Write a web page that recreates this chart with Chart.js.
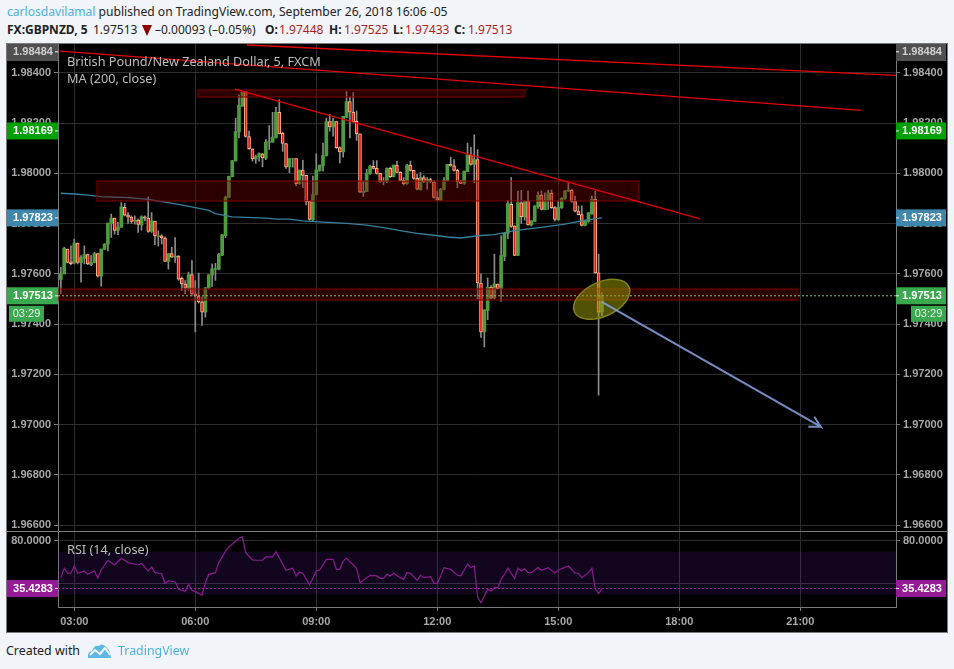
<!DOCTYPE html>
<html>
<head>
<meta charset="utf-8">
<title>FX:GBPNZD, 5</title>
<script src="https://cdn.jsdelivr.net/npm/chart.js@4/dist/chart.umd.min.js"></script>
<style>
  html, body { margin: 0; padding: 0; background: #f1f4f9; width: 954px; height: 669px; overflow: hidden; }
  body { font-family: "Noto Sans", sans-serif; font-size: 12.1px; color: #222; position: relative; }
  .line { position: absolute; white-space: nowrap; }
  .quote { position: absolute; top: 21px; font-size: 12px; white-space: nowrap; }
  .blue { color: #4db1e2; }
  .price { color: #b01c24; }
  #arrow-down { position: absolute; left: 142px; top: 25px; width: 0; height: 0; border-left: 5px solid transparent; border-right: 5px solid transparent; border-top: 11px solid #8b0000; }
  #frame { position: absolute; left: 6px; top: 43px; width: 940px; height: 588px; background: #000; border: 1px solid #7a7a7a; }
  #frame canvas { position: absolute; left: 0; top: 0; }
  .legend { position: absolute; color: #bdbdbd; font-size: 12.7px; white-space: nowrap; }
</style>
</head>
<body>
<div class="line" style="left:7px;top:3px"><span class="blue">carlosdavilamal</span> published on TradingView.com, September 26, 2018 16:06 -05</div>
<b class="quote" style="left:7px">FX:GBPNZD, 5</b>
<span class="quote" style="left:93px">1.97513</span>
<div id="arrow-down"></div>
<span class="quote" style="left:155px">&#8211;0.00093 (&#8211;0.05%)</span>
<b class="quote" style="left:265px">O:</b><span class="quote price" style="left:279px">1.97448</span>
<b class="quote" style="left:329px">H:</b><span class="quote price" style="left:344px">1.97525</span>
<b class="quote" style="left:393px">L:</b><span class="quote price" style="left:405px">1.97433</span>
<b class="quote" style="left:454px">C:</b><span class="quote price" style="left:468px">1.97513</span>
<div id="frame">
  <canvas id="chart" width="940" height="588"></canvas>
  <div class="legend" style="left:60px;top:8px">British Pound/New Zealand Dollar, 5, FXCM</div>
  <div class="legend" style="left:60px;top:25px">MA (200, close)</div>
  <div class="legend" style="left:60px;top:496px">RSI (14, close)</div>
</div>
<div class="line" style="left:6px;top:642px;font-size:12.4px">Created with</div>
<svg class="line" style="left:87px;top:643px" width="25" height="16" viewBox="0 0 25 16">
  <path d="M1 15 Q0 9 5 8 Q7 2 12 3 Q14 0 18 3 Q23 6 24 15 Z" fill="#5bb8e5"/>
  <path d="M3 12 L8 7 L13 11 L18 5 L23 12" fill="none" stroke="#f1f4f9" stroke-width="2"/>
</svg>
<div class="line blue" style="left:118px;top:642px;font-size:12.4px">TradingView</div>

<script>
var opens = [1.97578,1.97600,1.97699,1.97648,1.97644,1.97723,1.97645,1.97662,1.97677,1.97637,
  1.97646,1.97681,1.97591,1.97698,1.97718,1.97801,1.97822,1.97773,1.97786,1.97865,
  1.97834,1.97826,1.97810,1.97814,1.97795,1.97827,1.97822,1.97769,1.97810,1.97749,
  1.97752,1.97743,1.97650,1.97681,1.97667,1.97671,1.97582,1.97560,1.97542,1.97597,
  1.97521,1.97512,1.97489,1.97448,1.97545,1.97595,1.97619,1.97619,1.97675,1.97752,
  1.97904,1.97987,1.98050,1.98165,1.98268,1.98325,1.98147,1.98098,1.98058,1.98067,
  1.98078,1.98061,1.98124,1.98124,1.98141,1.98243,1.98160,1.98119,1.98026,1.98058,
  1.98059,1.97959,1.98013,1.97992,1.97889,1.97815,1.97916,1.98011,1.98030,1.98070,
  1.98206,1.98185,1.98206,1.98103,1.98086,1.98223,1.98286,1.98244,1.98207,1.98158,
  1.97923,1.97927,1.97999,1.98028,1.98020,1.98000,1.97967,1.97967,1.98020,1.97987,
  1.98033,1.98004,1.97972,1.97959,1.98033,1.98012,1.97980,1.97935,1.97983,1.97967,
  1.97975,1.97967,1.97904,1.97894,1.97937,1.97970,1.98036,1.98030,1.98012,1.97967,
  1.97960,1.98007,1.98073,1.98036,1.98055,1.97564,1.97369,1.97455,1.97547,1.97504,
  1.97560,1.97541,1.97670,1.97761,1.97877,1.97791,1.97674,1.97883,1.97827,1.97890,
  1.97795,1.97809,1.97868,1.97914,1.97856,1.97893,1.97922,1.97864,1.97815,1.97864,
  1.97900,1.97929,1.97933,1.97889,1.97850,1.97836,1.97793,1.97809,1.97839,1.97897,1.97604,1.97448];
var highs = [1.97626,1.97706,1.97699,1.97712,1.97739,1.97723,1.97673,1.97712,1.97679,1.97673,
  1.97686,1.97681,1.97699,1.97721,1.97802,1.97838,1.97822,1.97805,1.97884,1.97881,
  1.97844,1.97831,1.97831,1.97818,1.97831,1.97831,1.97906,1.97844,1.97810,1.97772,
  1.97756,1.97748,1.97681,1.97706,1.97745,1.97673,1.97587,1.97574,1.97607,1.97653,
  1.97574,1.97603,1.97508,1.97547,1.97596,1.97640,1.97642,1.97682,1.97758,1.97910,
  1.97989,1.98051,1.98220,1.98313,1.98326,1.98326,1.98168,1.98098,1.98073,1.98082,
  1.98079,1.98135,1.98190,1.98243,1.98263,1.98293,1.98164,1.98119,1.98059,1.98059,
  1.98059,1.98013,1.98053,1.97992,1.97889,1.97989,1.98078,1.98033,1.98121,1.98220,
  1.98234,1.98220,1.98206,1.98106,1.98227,1.98326,1.98306,1.98322,1.98249,1.98158,
  1.97970,1.98016,1.98033,1.98051,1.98051,1.98001,1.97983,1.98022,1.98025,1.98033,
  1.98049,1.98007,1.97983,1.98036,1.98049,1.98012,1.97996,1.98003,1.97991,1.97983,
  1.97980,1.97970,1.97930,1.97941,1.97983,1.98036,1.98065,1.98055,1.98016,1.97972,
  1.98009,1.98121,1.98104,1.98154,1.98095,1.97600,1.97457,1.97584,1.97554,1.97679,
  1.97560,1.97752,1.97762,1.97893,1.97983,1.97791,1.97930,1.97933,1.97890,1.97930,
  1.97811,1.97871,1.97927,1.97930,1.97923,1.97934,1.97935,1.97868,1.97890,1.97904,
  1.97933,1.97963,1.97937,1.97910,1.97871,1.97871,1.97811,1.97844,1.97910,1.97930,1.97679,1.97525];
var lows = [1.97521,1.97600,1.97644,1.97637,1.97640,1.97640,1.97567,1.97640,1.97637,1.97633,
  1.97644,1.97587,1.97551,1.97698,1.97692,1.97745,1.97758,1.97756,1.97785,1.97831,
  1.97801,1.97801,1.97798,1.97765,1.97774,1.97811,1.97765,1.97765,1.97716,1.97710,
  1.97719,1.97650,1.97619,1.97666,1.97646,1.97574,1.97534,1.97521,1.97534,1.97514,
  1.97369,1.97484,1.97395,1.97428,1.97541,1.97550,1.97574,1.97616,1.97673,1.97745,
  1.97904,1.97986,1.98049,1.98141,1.98267,1.98144,1.98095,1.98049,1.98040,1.98049,
  1.98026,1.98055,1.98095,1.98124,1.98141,1.98157,1.98088,1.98020,1.98003,1.98025,
  1.97950,1.97956,1.97943,1.97875,1.97814,1.97811,1.97914,1.98009,1.98009,1.98070,
  1.98168,1.98148,1.98099,1.98042,1.98065,1.98223,1.98141,1.98205,1.98131,1.97923,
  1.97908,1.97927,1.97996,1.98017,1.97997,1.97964,1.97954,1.97963,1.97983,1.97985,
  1.98003,1.97970,1.97954,1.97956,1.98009,1.97976,1.97934,1.97933,1.97963,1.97937,
  1.97963,1.97901,1.97893,1.97893,1.97934,1.97970,1.98029,1.98009,1.97943,1.97959,
  1.97956,1.98007,1.98033,1.97963,1.97501,1.97347,1.97310,1.97418,1.97501,1.97501,
  1.97541,1.97492,1.97653,1.97741,1.97785,1.97673,1.97673,1.97801,1.97814,1.97794,
  1.97791,1.97809,1.97861,1.97855,1.97855,1.97857,1.97861,1.97811,1.97814,1.97861,
  1.97897,1.97927,1.97886,1.97847,1.97835,1.97791,1.97791,1.97805,1.97838,1.97603,1.97118,1.97433];
var closes = [1.97600,1.97702,1.97646,1.97641,1.97723,1.97646,1.97665,1.97677,1.97640,1.97646,
  1.97681,1.97591,1.97699,1.97719,1.97802,1.97822,1.97773,1.97786,1.97867,1.97834,
  1.97826,1.97809,1.97813,1.97797,1.97827,1.97822,1.97769,1.97811,1.97751,1.97752,
  1.97743,1.97650,1.97681,1.97667,1.97671,1.97579,1.97560,1.97543,1.97597,1.97520,
  1.97512,1.97489,1.97448,1.97545,1.97596,1.97620,1.97621,1.97677,1.97756,1.97906,
  1.97988,1.98051,1.98166,1.98271,1.98323,1.98147,1.98098,1.98058,1.98067,1.98079,
  1.98062,1.98124,1.98127,1.98144,1.98243,1.98157,1.98119,1.98026,1.98059,1.98059,
  1.97959,1.98013,1.97992,1.97888,1.97817,1.97917,1.98013,1.98033,1.98071,1.98206,
  1.98185,1.98207,1.98102,1.98086,1.98227,1.98286,1.98244,1.98206,1.98158,1.97925,
  1.97929,1.98000,1.98028,1.98020,1.98000,1.97967,1.97970,1.98020,1.97987,1.98033,
  1.98004,1.97972,1.97959,1.98033,1.98012,1.97980,1.97937,1.97983,1.97967,1.97976,
  1.97967,1.97904,1.97894,1.97937,1.97972,1.98036,1.98030,1.98012,1.97967,1.97960,
  1.98009,1.98073,1.98036,1.98055,1.97564,1.97369,1.97457,1.97547,1.97504,1.97560,
  1.97541,1.97673,1.97762,1.97880,1.97789,1.97674,1.97883,1.97828,1.97890,1.97795,
  1.97811,1.97871,1.97914,1.97857,1.97894,1.97923,1.97864,1.97817,1.97865,1.97901,
  1.97930,1.97934,1.97889,1.97850,1.97836,1.97793,1.97811,1.97843,1.97897,1.97604,1.97448,1.97513];

// bar numbers + values
var maBars = [0,4,8,12,20,26,30,35,40,44,46,49,51,57,61,64,68,72,78,85,91,96,101,106,111,115,119,124,129,135,143,150,156,161];
var maValues = [1.97921,1.97918,1.97914,1.97908,1.97904,1.97897,1.97888,1.97877,1.97864,1.97853,1.97840,1.97832,1.97827,1.97824,1.97822,
  1.97818,1.97818,1.97811,1.97806,1.97801,1.97794,1.97784,1.97772,1.97761,1.97754,1.97747,1.97743,1.97752,1.97756,1.97772,1.97785,1.97798,1.97814,1.97823];
var rsiBars = [0,1,2,3,4,5,7,8,10,11,12,14,16,18,20,23,24,26,27,28,30,31,32,34,35,37,38,39,40,42,43,44,46,47,49,50,53,54,55,57,58,60,61,63,64,67,69,70,71,72,74,76,77,
  79,81,82,83,84,85,88,89,92,94,95,96,97,98,99,101,102,103,104,106,107,108,110,111,112,113,114,116,118,119,121,122,123,124,125,127,128,129,130,131,132,133,135,136,137,138,139,140,142,143,145,147,148,151,153,154,155,157,158,159,160,161];
var rsiValues = [45.6,54.4,49.7,49.7,56.5,49.7,51.8,48.7,51.8,45.0,52.8,61.9,57.5,63.7,59.7,57.5,59.0,51.8,55.6,50.3,49.3,40.3,42.5,41.8,34.6,32.5,39.3,33.7,32.5,29.3,40.9,48.7,50.3,59.7,70.6,74.4,82.5,83.8,69.1,62.2,61.9,61.9,65.0,65.0,70.0,52.5,54.4,47.2,50.9,49.7,38.7,51.8,52.8,
  62.8,62.8,53.4,53.4,61.2,63.7,54.4,40.9,47.8,47.2,45.0,45.0,48.7,47.2,49.7,45.6,44.0,50.3,49.7,43.1,47.8,45.6,46.5,40.3,40.3,47.2,55.0,53.4,47.8,47.2,58.1,55.0,56.5,27.4,22.1,34.6,33.1,36.2,36.2,44.0,48.7,54.4,45.0,54.4,51.8,54.0,50.3,50.3,55.0,52.5,55.0,49.7,52.8,56.5,49.7,49.7,45.6,50.3,54.4,35.3,30.6,35.4];

// drawings on the chart, [hour, price]
var zoneA = [[6.06,1.98332],[14.175,1.98304]];
var zoneB = [[3.555,1.97970],[17.0,1.97890]];
var zoneC = [[2.596,1.97541],[20.93,1.97496]];
var trendA = [[6.985,1.98335],[18.514,1.97819]];
var trendB = [[2.645,1.98487],[22.507,1.98251]];
var trendC = [[7.28,1.98511],[23.37,1.98390]];
var arrowPath = [[16.077,1.97489],[21.507,1.96992],[21.349,1.97032],[21.507,1.96992],[21.2,1.96992]];
var circleCenter = [16.077,1.97499];

var lastPrice = 1.97513, lastRsi = 35.4283;
var priceTags = [1.98484, 1.98169, 1.97823, 1.97513];
var countdown = '03:29';

var xMin = 2.596, xMax = 23.374;
var times = closes.map(function (c, i) { return 2 + 40 / 60 + i / 12; });

var wicks = [], upBodies = [], downBodies = [];
closes.forEach(function (c, i) {
  wicks.push({x: times[i], y: [lows[i], highs[i]]});
  if (c >= opens[i]) upBodies.push({x: times[i], y: [opens[i], c]});
  else downBodies.push({x: times[i], y: [c, opens[i]]});
});

function toPoints(list) {
  return list.map(function (p) { return {x: p[0], y: p[1]}; });
}
function box(z) {
  return toPoints([z[0], [z[1][0], z[0][1]], z[1], [z[0][0], z[1][1]], z[0]]);
}
function zone(z) {
  return {type: 'line', data: box(z), xAxisID: 'x', yAxisID: 'y', order: 5, pointRadius: 0, tension: 0, fill: 'shape',
    backgroundColor: 'rgba(125,0,0,0.36)', borderColor: 'rgba(130,0,0,0.5)', borderWidth: 2};
}
function trend(t) {
  return {type: 'line', data: toPoints(t), xAxisID: 'x', yAxisID: 'y', order: 4, pointRadius: 0, borderColor: '#e60000', borderWidth: 1.3};
}

var tagFont = 'bold 11px "Liberation Sans", Arial, sans-serif';
var tagColors = ['#505050', '#00a000', '#3f86ad', '#3aa84e'];

var overlay = {
  id: 'overlay',
  beforeDatasetDraw: function (chart, args) {
    if (chart.data.datasets[args.index].label !== 'arrow') return;
    var ctx = chart.ctx;
    ctx.save();
    ctx.beginPath();
    ctx.ellipse(chart.scales.x.getPixelForValue(circleCenter[0]), chart.scales.y.getPixelForValue(circleCenter[1]), 30, 17, -25 * Math.PI / 180, 0, 2 * Math.PI);
    ctx.fillStyle = 'rgba(150,150,10,0.55)';
    ctx.fill();
    ctx.strokeStyle = '#80801c';
    ctx.lineWidth = 1.5;
    ctx.stroke();
    ctx.restore();
  },
  afterDraw: function (chart) {
    var ctx = chart.ctx, a = chart.chartArea, W = chart.width;
    ctx.save();
    ctx.fillStyle = '#7a7a7a';
    ctx.fillRect(0, chart.scales.y.bottom - 0.5, W, 1);
    ctx.font = tagFont;
    ctx.textBaseline = 'middle';
    ctx.textAlign = 'center';

    function tag(y, color, text) {
      var top = Math.max(0, y - 8.5);
      ctx.fillStyle = color;
      ctx.fillRect(0, top, a.left, 17);
      ctx.fillRect(a.right, top, W - a.right - 1, 17);
      ctx.fillStyle = '#eee';
      ctx.fillRect(a.left - 3, y - 0.5, 3, 1);
      ctx.fillRect(a.right, y - 0.5, 3, 1);
      ctx.fillStyle = color === '#505050' ? '#d0d0d0' : '#fff';
      ctx.fillText(text, 26, y);
      ctx.fillText(text, a.right + 26, y);
    }
    priceTags.forEach(function (p, i) {
      tag(chart.scales.y.getPixelForValue(p), tagColors[i], p.toFixed(5));
    });
    tag(chart.scales.rsi.getPixelForValue(lastRsi), '#941a96', lastRsi.toFixed(4));

    // countdown boxes under the last price
    var cy = chart.scales.y.getPixelForValue(lastPrice) + 18;
    ctx.fillStyle = '#3aa84e';
    ctx.fillRect(2, cy - 8, 35, 16);
    ctx.fillRect(a.right + 15, cy - 8, 35, 16);
    ctx.fillStyle = '#eee';
    ctx.font = '11px "Liberation Sans", Arial, sans-serif';
    ctx.fillText(countdown, 19.5, cy);
    ctx.fillText(countdown, a.right + 32.5, cy);
    ctx.restore();
  }
};

var tickFont = {family: '"Liberation Sans", Arial, sans-serif', size: 11, weight: 'bold'};
var gridColor = '#2e2e2e', axisColor = '#7a7a7a';

function priceAxis(position, stack, min, max, step, digits, weight, order) {
  return {
    type: 'linear', position: position, stack: stack, stackWeight: weight, weight: order,
    min: min, max: max, beginAtZero: false,
    border: {color: axisColor},
    grid: {color: gridColor, tickColor: axisColor, tickLength: 4, drawOnChartArea: position === 'left'},
    // the RSI 40 label sits under the 35.4283 tag in the original
    ticks: {stepSize: step, includeBounds: false, font: tickFont, padding: 3,
      color: function (c) { return c.tick.value === 40 ? 'transparent' : '#a8a8a8'; },
      callback: function (v) { return v.toFixed(digits); }},
    afterFit: function (s) { s.width = 51; s.paddingTop = 0; s.paddingBottom = 0; }
  };
}

new Chart(document.getElementById('chart'), {
  type: 'bar',
  data: {
    datasets: [
      {label: 'wicks', data: wicks, order: 12, barThickness: 1, backgroundColor: '#8c8c8c', xAxisID: 'x', yAxisID: 'y', grouped: false},
      {label: 'up', data: upBodies, order: 11, barThickness: 3, backgroundColor: '#4e9c3e', xAxisID: 'x', yAxisID: 'y', grouped: false},
      {label: 'down', data: downBodies, order: 10, barThickness: 3, backgroundColor: '#f01414', borderColor: '#fbb888', borderWidth: 1, borderSkipped: false, xAxisID: 'x', yAxisID: 'y', grouped: false},
      {type: 'line', label: 'ma', data: maBars.map(function (b, i) { return {x: times[b], y: maValues[i]}; }), order: 9, pointRadius: 0, borderColor: '#38819f', borderWidth: 1.3, xAxisID: 'x', yAxisID: 'y'},
      zone(zoneA), zone(zoneB), zone(zoneC),
      trend(trendA), trend(trendB), trend(trendC),
      {type: 'line', label: 'last', data: [{x: xMin, y: lastPrice}, {x: xMax, y: lastPrice}], order: 3, pointRadius: 0, borderColor: '#8cc08c', borderWidth: 1, borderDash: [2, 2], xAxisID: 'x', yAxisID: 'y'},
      {type: 'line', label: 'arrow', data: toPoints(arrowPath), order: 2, pointRadius: 0, borderColor: 'rgba(130,155,215,0.9)', borderWidth: 2, xAxisID: 'x', yAxisID: 'y'},
      {type: 'line', label: 'band', data: toPoints([[xMin, 70], [xMax, 70], [xMax, 30], [xMin, 30], [xMin, 70]]), order: 8, pointRadius: 0, borderWidth: 0, fill: 'shape', backgroundColor: 'rgba(120,40,200,0.15)', xAxisID: 'x', yAxisID: 'rsi'},
      {type: 'line', label: 'rsi', data: rsiBars.map(function (b, i) { return {x: times[b], y: rsiValues[i]}; }), order: 7, pointRadius: 0, borderColor: '#8b1a90', borderWidth: 1.2, xAxisID: 'x', yAxisID: 'rsi'},
      {type: 'line', label: 'rsiLast', data: [{x: xMin, y: lastRsi}, {x: xMax, y: lastRsi}], order: 6, pointRadius: 0, borderColor: '#9c22a0', borderWidth: 1, borderDash: [2, 2], xAxisID: 'x', yAxisID: 'rsi'}
    ]
  },
  options: {
    responsive: false,
    animation: false,
    layout: {padding: 0},
    plugins: {legend: {display: false}, tooltip: {enabled: false}, title: {display: false}},
    scales: {
      x: {
        type: 'linear', position: 'bottom', min: xMin, max: xMax, offset: false,
        border: {color: axisColor},
        grid: {color: gridColor, tickColor: axisColor, tickLength: 4, offset: false},
        ticks: {stepSize: 3, includeBounds: false, maxRotation: 0, color: '#a8a8a8', font: tickFont, padding: 4,
          callback: function (v) { return String(v).padStart(2, '0') + ':00'; }},
        afterFit: function (s) { s.height = 25; s.paddingLeft = 0; s.paddingRight = 0; }
      },
      y: priceAxis('left', 'paneL', 1.96575, 1.98515, 0.002, 5, 487.5, 1),
      rsi: priceAxis('left', 'paneL', 18.05, 88.9, 40, 4, 75.5, 0),
      yRight: priceAxis('right', 'paneR', 1.96575, 1.98515, 0.002, 5, 487.5, 0),
      rsiRight: priceAxis('right', 'paneR', 18.05, 88.9, 40, 4, 75.5, 1)
    }
  },
  plugins: [overlay]
});
</script>
</body>
</html>
